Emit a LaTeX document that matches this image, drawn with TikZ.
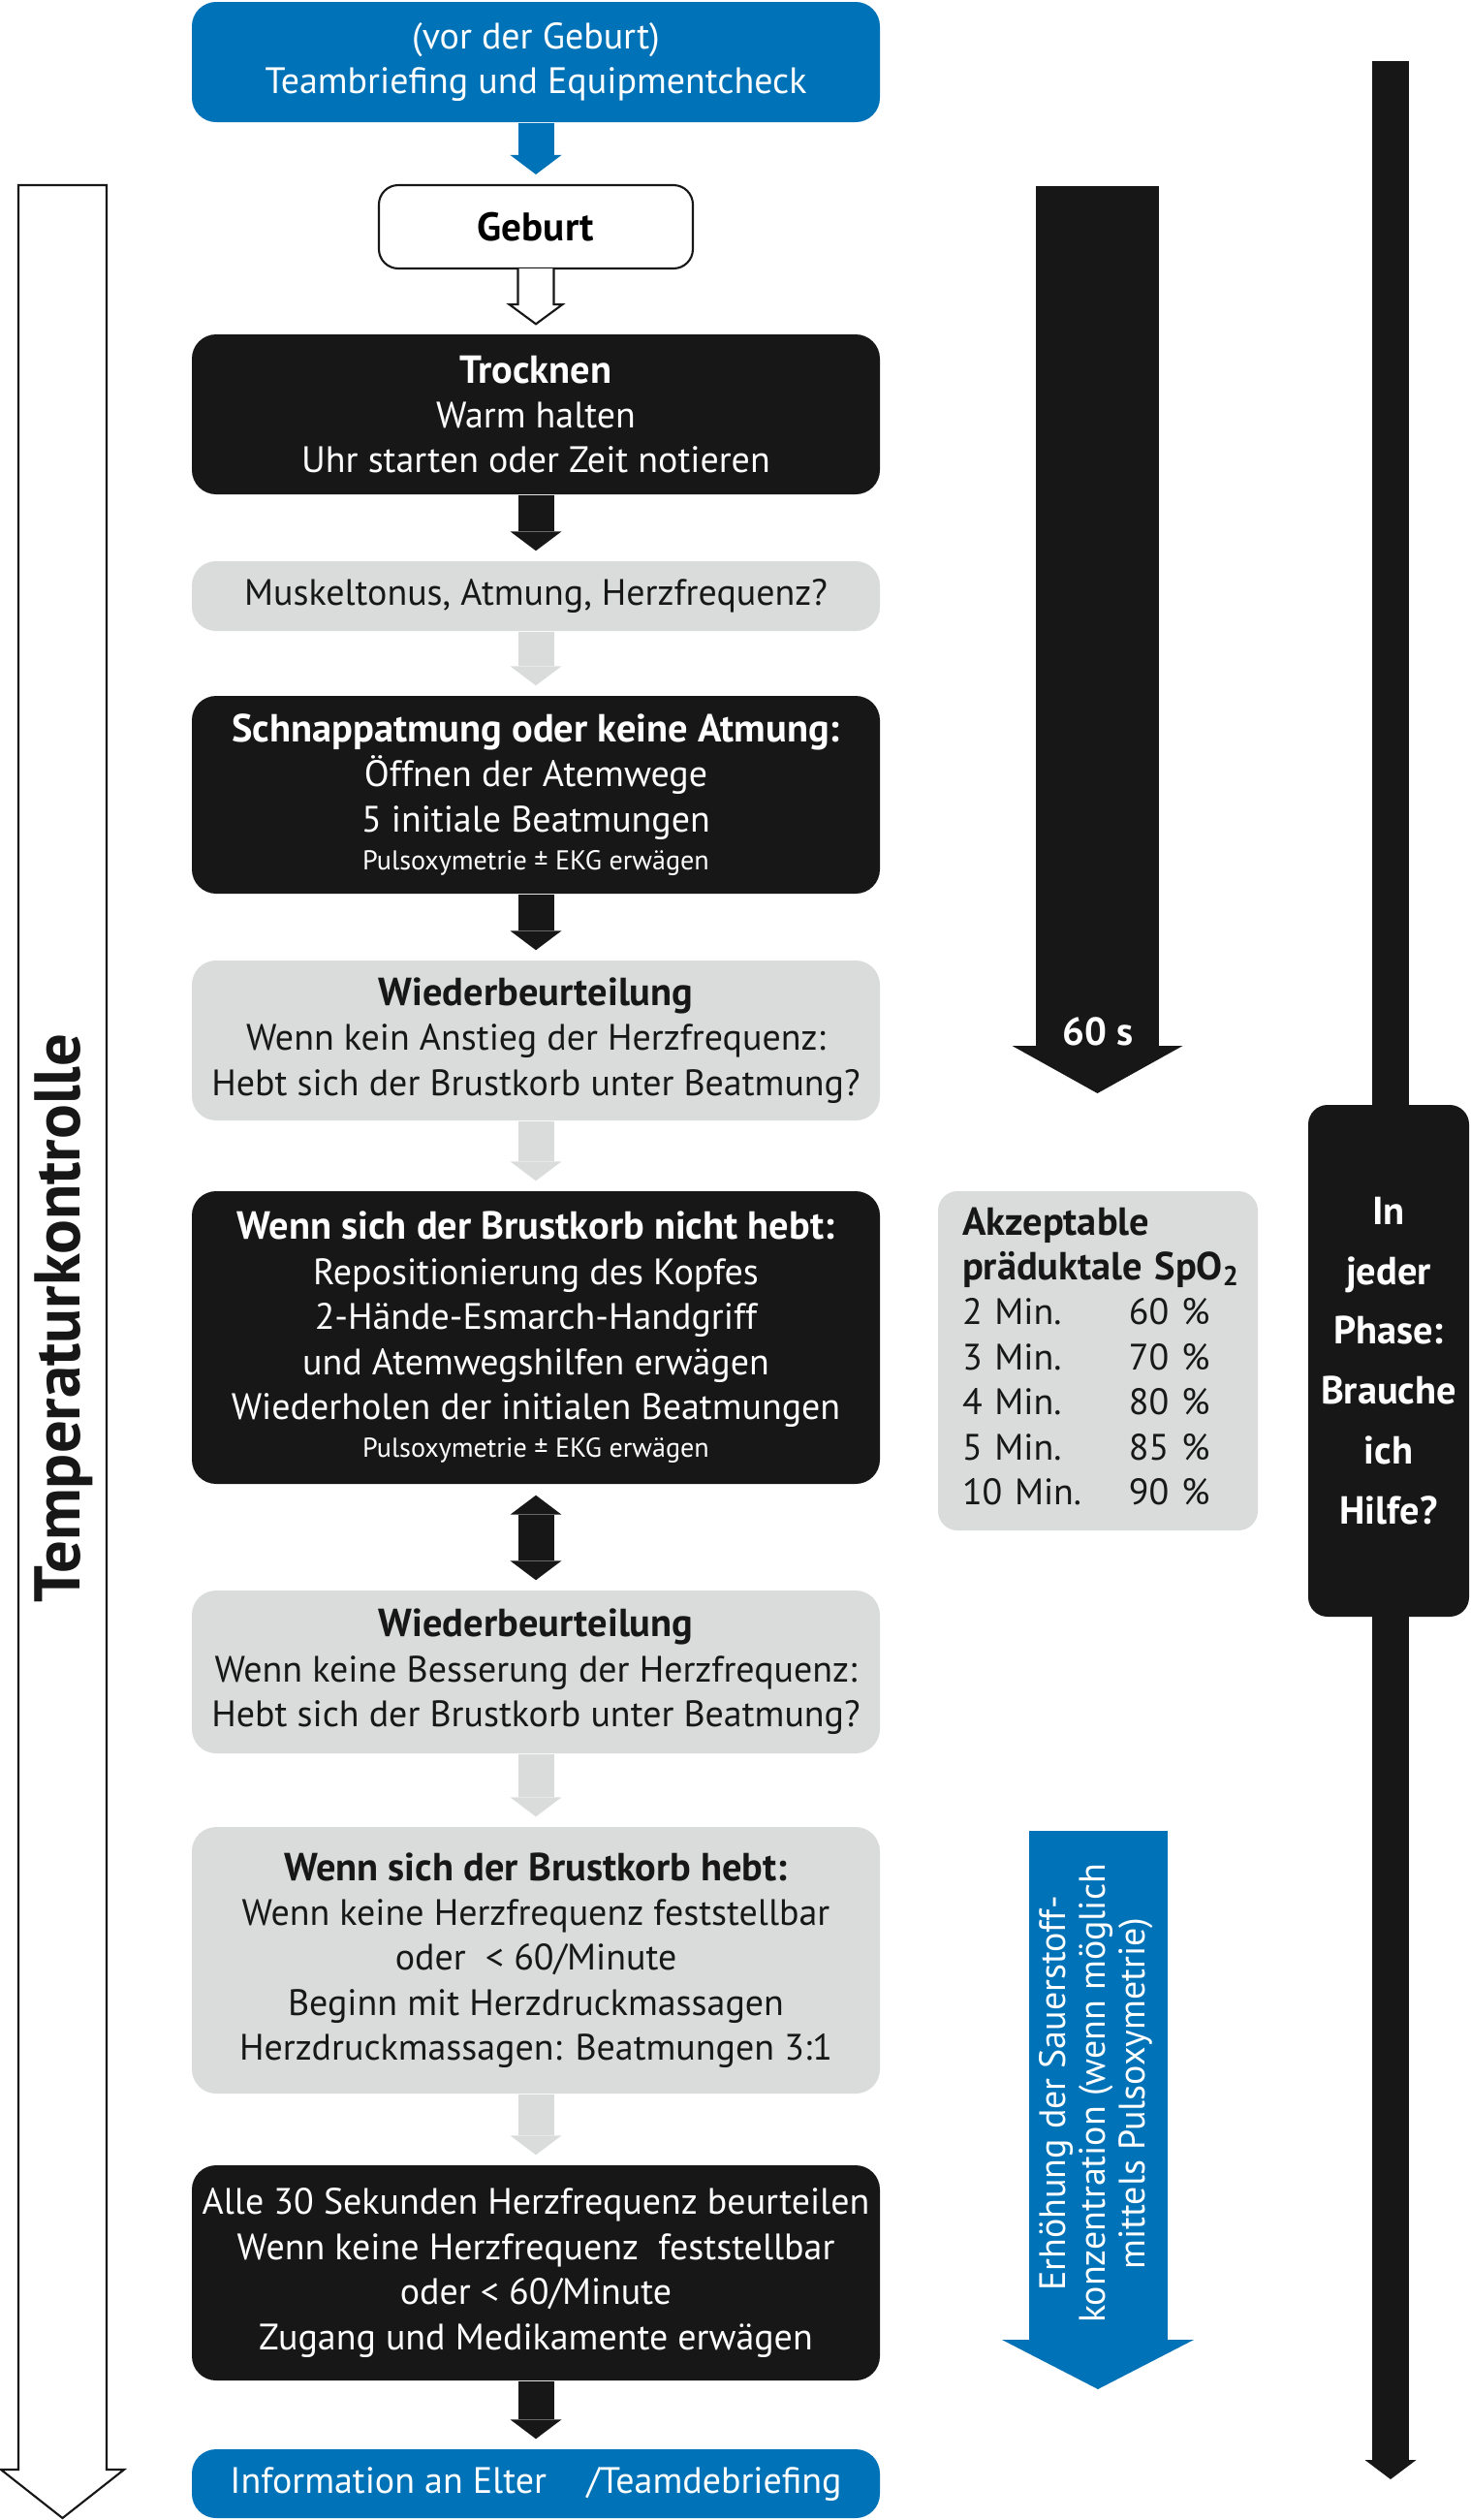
\documentclass[tikz,border=0pt]{standalone}
\usepackage{fontspec}
\setmainfont{PT Sans}
\usetikzlibrary{arrows.meta,calc}

\definecolor{ercblue}{RGB}{0,114,183}
\definecolor{ercblack}{RGB}{23,23,23}
\definecolor{ercgray}{RGB}{218,219,219}

\newcommand{\smalltxt}[1]{{\fontsize{8}{9.6}\selectfont #1}}
\newcommand{\hd}[1]{{\fontsize{11.5}{13.2}\selectfont\bfseries #1}}

\tikzset{
  box/.style={rounded corners=0.25cm, minimum width=7.1cm, align=center,
      inner sep=0pt, font=\fontsize{10.8}{13.2}\selectfont},
  bluebox/.style={box, fill=ercblue, text=white},
  blackbox/.style={box, fill=ercblack, text=white},
  graybox/.style={box, fill=ercgray, text=ercblack},
  tip/.tip={Triangle[width=5.3mm,length=2mm,line width=0pt]},
  flow/.style={line width=0.37cm, shorten >=0.1cm, -tip},
  outline/.style={draw=ercblack, line width=0.6pt, fill=white}
}

\begin{document}
\begin{tikzpicture}
      \useasboundingbox (0,0) rectangle (15.17,-26);

      % Temperature control (left)
      \draw[outline] (0.19,-1.91) -- (1.10,-1.91) -- (1.10,-25.48) -- (1.28,-25.48)
        -- (0.645,-25.98) -- (0.01,-25.48) -- (0.19,-25.48) -- cycle;
      \node[rotate=90, text=ercblack, font=\fontsize{19}{19}\selectfont\bfseries] (temp) at (0.66,-13.6) {Temperaturkontrolle};

      % Help line (right)
      \coordinate (hilfetop) at (14.35,-0.63);
      \coordinate (hilfeend) at (14.35,-25.58);
      \draw[ercblack, line width=0.38cm, -tip] (hilfetop) -- (hilfeend);
      \node[blackbox, rounded corners=0.2cm, minimum width=1.66cm, minimum height=5.28cm,
        font=\fontsize{11.5}{17.6}\selectfont\bfseries] (hilfe) at (14.33,-14.04)
        {In\\jeder\\Phase:\\Brauche\\ich\\Hilfe?};

      % 60 s arrow
      \coordinate (sixtytop) at (11.325,-1.92);
      \coordinate (sixtyend) at (11.325,-11.28);
      \draw[ercblack, line width=1.27cm, -{Triangle[width=17.6mm,length=4.9mm,line width=0pt]}] (sixtytop) -- (sixtyend);
      \node[text=white, font=\fontsize{11.5}{13}\selectfont\bfseries] (sixty) at (11.33,-10.64) {60 s};

      % SpO2 table
      \node[graybox, rounded corners=0.2cm, minimum width=3.3cm, minimum height=3.5cm,
        text width=2.8cm, align=left] (spo) at (11.33,-14.04) {%
        \begin{tabular}{@{}p{1.72cm}@{}l@{}}
          \multicolumn{2}{@{}l@{}}{\hd{Akzeptable}}\\
          \multicolumn{2}{@{}l@{}}{\hd{präduktale SpO\textsubscript{2}}}\\
          2 Min.  & 60 \%\\
          3 Min.  & 70 \%\\
          4 Min.  & 80 \%\\
          5 Min.  & 85 \%\\
          10 Min. & 90 \%
        \end{tabular}};

      % Oxygen arrow
      \coordinate (sauertop) at (11.33,-18.89);
      \coordinate (sauerend) at (11.33,-24.65);
      \draw[ercblue, line width=1.43cm, -{Triangle[width=19.8mm,length=5.1mm,line width=0pt]}] (sauertop) -- (sauerend);
      \node[rotate=90, text=white, align=center, font=\fontsize{10.8}{11.7}\selectfont] (sauer) at (11.31,-21.6)
        {Erhöhung der Sauerstoff-\\konzentration (wenn möglich\\mittels Pulsoxymetrie)};

      % Flow boxes
      \node[bluebox, minimum height=1.24cm] (briefing) at (5.53,-0.64)
        {(vor der Geburt)\\Teambriefing und Equipmentcheck};
      \node[outline, rounded corners=0.2cm, minimum width=3.24cm, minimum height=0.86cm,
        font=\fontsize{11.7}{13.2}\selectfont\bfseries] (geburt) at (5.53,-2.34) {Geburt};
      \node[blackbox, minimum height=1.65cm] (trocknen) at (5.53,-4.275)
        {\hd{Trocknen}\\Warm halten\\Uhr starten oder Zeit notieren};
      \node[graybox, minimum height=0.72cm] (atmung) at (5.53,-6.15)
        {Muskeltonus, Atmung, Herzfrequenz?};
      \node[blackbox, minimum height=2.04cm] (schnapp) at (5.53,-8.20)
        {\hd{Schnappatmung oder keine Atmung:}\\Öffnen der Atemwege\\5 initiale Beatmungen\\[-2pt]
         \smalltxt{Pulsoxymetrie ± EKG erwägen}};
      \node[graybox, minimum height=1.65cm] (wieder1) at (5.53,-10.735)
        {\hd{Wiederbeurteilung}\\Wenn kein Anstieg der Herzfrequenz:\\Hebt sich der Brustkorb unter Beatmung?};
      \node[blackbox, minimum height=3.02cm] (nichthebt) at (5.53,-13.80)
        {\hd{Wenn sich der Brustkorb nicht hebt:}\\Repositionierung des Kopfes\\2-Hände-Esmarch-Handgriff\\
         und Atemwegshilfen erwägen\\Wiederholen der initialen Beatmungen\\[-2pt]
         \smalltxt{Pulsoxymetrie ± EKG erwägen}};
      \node[graybox, minimum height=1.68cm] (wieder2) at (5.53,-17.25)
        {\hd{Wiederbeurteilung}\\Wenn keine Besserung der Herzfrequenz:\\Hebt sich der Brustkorb unter Beatmung?};
      \node[graybox, minimum height=2.75cm] (hebt) at (5.53,-20.225)
        {\hd{Wenn sich der Brustkorb hebt:}\\Wenn keine Herzfrequenz feststellbar\\oder~~< 60/Minute\\
         Beginn mit Herzdruckmassagen\\Herzdruckmassagen: Beatmungen 3:1};
      \node[blackbox, minimum height=2.22cm] (alle30) at (5.53,-23.45)
        {Alle 30 Sekunden Herzfrequenz beurteilen\\Wenn keine Herzfrequenz~~feststellbar\\
         oder < 60/Minute\\Zugang und Medikamente erwägen};
      \node[bluebox, minimum height=0.71cm] (debriefing) at (5.53,-25.625)
        {Information an Elter\hspace{1.1em}/Teamdebriefing};

      % Connectors
      \draw[flow, ercblue] (briefing.south) -- (geburt.north);
      \draw[outline] ($(geburt.south)+(-0.185,0.01)$) -- ++(0,-0.37) -- ++(-0.09,0)
        -- ($(trocknen.north)+(0,0.1)$) -- ($(geburt.south)+(0.275,-0.36)$) -- ++(-0.09,0) -- ++(0,0.37);
      \draw[flow, ercblack] (trocknen.south) -- (atmung.north);
      \draw[flow, ercgray] (atmung.south) -- (schnapp.north);
      \draw[flow, ercblack] (schnapp.south) -- (wieder1.north);
      \draw[flow, ercgray] (wieder1.south) -- (nichthebt.north);
      \draw[flow, ercblack, shorten <=0.11cm, tip-tip] (nichthebt.south) -- (wieder2.north);
      \draw[flow, ercgray] (wieder2.south) -- (hebt.north);
      \draw[flow, ercgray] (hebt.south) -- (alle30.north);
      \draw[flow, ercblack] (alle30.south) -- (debriefing.north);

    \end{tikzpicture}
\end{document}
